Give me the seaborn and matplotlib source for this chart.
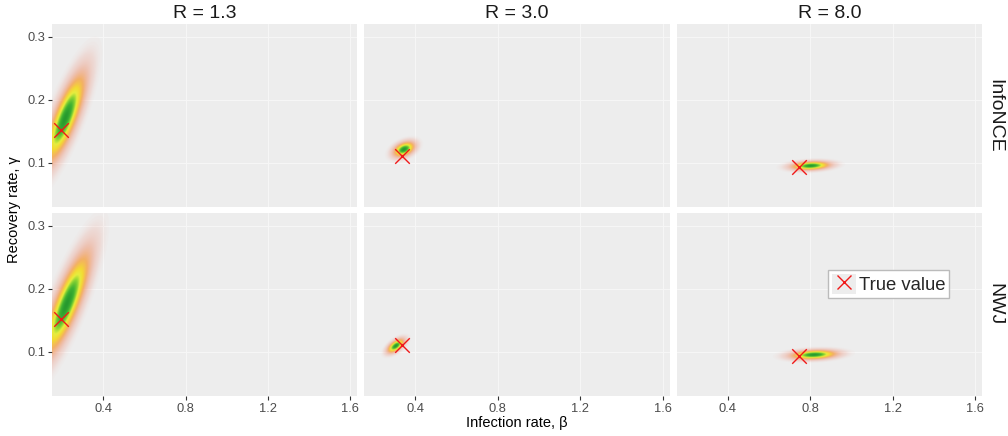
import numpy as np
import pandas as pd
import seaborn as sns
import matplotlib.pyplot as plt
from matplotlib.colors import LinearSegmentedColormap
from matplotlib.patches import Rectangle
from matplotlib.lines import Line2D
from matplotlib.legend_handler import HandlerTuple

# ---------------- data ----------------
r_labels = ["R = 1.3", "R = 3.0", "R = 8.0"]
methods = ["InfoNCE", "NWJ"]
true_beta = [0.197, 0.333, 0.745]
true_gamma = [0.152, 0.111, 0.094]

# posterior density summary per panel (row-major: InfoNCE row, then NWJ row)
post_beta_mean = [0.215, 0.345, 0.800, 0.222, 0.305, 0.815]
post_gamma_mean = [0.170, 0.121, 0.095, 0.175, 0.109, 0.095]
post_beta_sd = [0.054, 0.028, 0.050, 0.062, 0.022, 0.060]
post_gamma_sd = [0.039, 0.0065, 0.0037, 0.045, 0.006, 0.004]
post_rho = [0.80, 0.40, 0.20, 0.83, 0.60, 0.20]

x_ticks = [0.4, 0.8, 1.2, 1.6]
x_ticklabels = ["0.4", "0.8", "1.2", "1.6"]
y_ticks = [0.1, 0.2, 0.3]
y_ticklabels = ["0.1", "0.2", "0.3"]

# ---------------- style ----------------
sns.set_theme(style="darkgrid", rc={
    "axes.facecolor": "#EDEDED",
    "grid.color": "#F6F6F6",
    "grid.linewidth": 0.8,
    "axes.edgecolor": "none",
})
plt.rcParams["font.family"] = ["Liberation Sans", "DejaVu Sans"]

cmap = LinearSegmentedColormap.from_list("dens", [
    (0.00, (0.93, 0.45, 0.35, 0.0)),
    (0.03, (0.93, 0.50, 0.40, 0.18)),
    (0.12, (0.94, 0.55, 0.40, 0.45)),
    (0.28, (0.96, 0.65, 0.30, 0.85)),
    (0.45, (0.96, 0.85, 0.20, 1.0)),
    (0.58, (0.90, 0.93, 0.25, 1.0)),
    (0.70, (0.55, 0.83, 0.20, 1.0)),
    (0.85, (0.25, 0.70, 0.20, 1.0)),
    (1.00, (0.15, 0.60, 0.18, 1.0)),
])

W, H = 1008, 436
fig = plt.figure(figsize=(W / 100, H / 100), dpi=100)
axes = fig.subplots(2, 3, sharex=True, sharey=True)
fig.subplots_adjust(left=52 / W, right=982 / W, top=1 - 24 / H, bottom=1 - 396 / H,
                    wspace=7 / 305.3, hspace=6 / 183)

xlim = (0.152, 1.634)
ylim = (0.030, 0.3206)
gx = np.linspace(xlim[0], xlim[1], 600)
gy = np.linspace(ylim[0], ylim[1], 450)
XX, YY = np.meshgrid(gx, gy)

for i in range(2):
    for j in range(3):
        k = i * 3 + j
        ax = axes[i, j]
        mb, mg = post_beta_mean[k], post_gamma_mean[k]
        sb, sg, rho = post_beta_sd[k], post_gamma_sd[k], post_rho[k]
        zb = (XX - mb) / sb
        zg = (YY - mg) / sg
        Q = (zb ** 2 - 2 * rho * zb * zg + zg ** 2) / (1 - rho ** 2)
        Z = np.exp(-0.5 * Q)
        ax.imshow(Z, extent=[xlim[0], xlim[1], ylim[0], ylim[1]], origin="lower",
                  aspect="auto", cmap=cmap, vmin=0, vmax=1,
                  interpolation="bilinear", zorder=1)
        df = pd.DataFrame({"beta": [true_beta[j]], "gamma": [true_gamma[j]]})
        sns.scatterplot(data=df, x="beta", y="gamma", marker="x", s=110,
                        color="#F01818", linewidth=1.0, ax=ax, zorder=5, legend=False)
        ax.set_xlim(*xlim)
        ax.set_ylim(*ylim)
        ax.set_xticks(x_ticks)
        ax.set_yticks(y_ticks)
        ax.set_xlabel("")
        ax.set_ylabel("")
        ax.set_axisbelow(True)
        ax.grid(True, color="#F6F6F6", linewidth=0.8)
        for s in ax.spines.values():
            s.set_visible(False)
        ax.tick_params(axis="both", length=3, width=0.8, color="#333333",
                       labelcolor="#4D4D4D", labelsize=9.3, pad=2)
        if i == 1:
            ax.set_xticklabels(x_ticklabels)
            ax.tick_params(axis="x", bottom=True)
        else:
            ax.tick_params(axis="x", bottom=False, labelbottom=False)
        if j == 0:
            ax.set_yticklabels(y_ticklabels)
            ax.tick_params(axis="y", left=True)
        else:
            ax.tick_params(axis="y", left=False, labelleft=False)
        if i == 0:
            ax.set_title(r_labels[j], fontsize=14, color="#1A1A1A", pad=4)
        if j == 2:
            ax.text(1 + 13 / 305, 0.5, methods[i], transform=ax.transAxes,
                    rotation=-90, ha="center", va="center", fontsize=14,
                    color="#1A1A1A")

fig.text(517 / W, 1 - 423 / H, "Infection rate, β", ha="center", va="center",
         fontsize=10.5, color="black")
fig.text(14 / W, 1 - 210 / H, "Recovery rate, γ", ha="center", va="center",
         rotation=90, fontsize=10.5, color="black")

key_bg = Rectangle((0, 0), 1, 1, facecolor="#EDEDED", edgecolor="none")
key_x = Line2D([], [], marker="x", color="#F01818", linestyle="none",
               markersize=10, markeredgewidth=1.0)
leg = axes[1, 2].legend([(key_bg, key_x)], ["True value"],
                        handler_map={tuple: HandlerTuple(ndivide=1)},
                        loc="center", bbox_to_anchor=((828 + 949) / 2 / W, 1 - 284 / H),
                        bbox_transform=fig.transFigure, fontsize=13.3,
                        frameon=True, fancybox=False, framealpha=1,
                        edgecolor="#BBBBBB", facecolor="white",
                        handlelength=1.3, handleheight=1.3, handletextpad=0.15,
                        borderpad=0.22, borderaxespad=0)
leg.get_frame().set_linewidth(1.0)

fig.savefig("out.png", dpi=100)
